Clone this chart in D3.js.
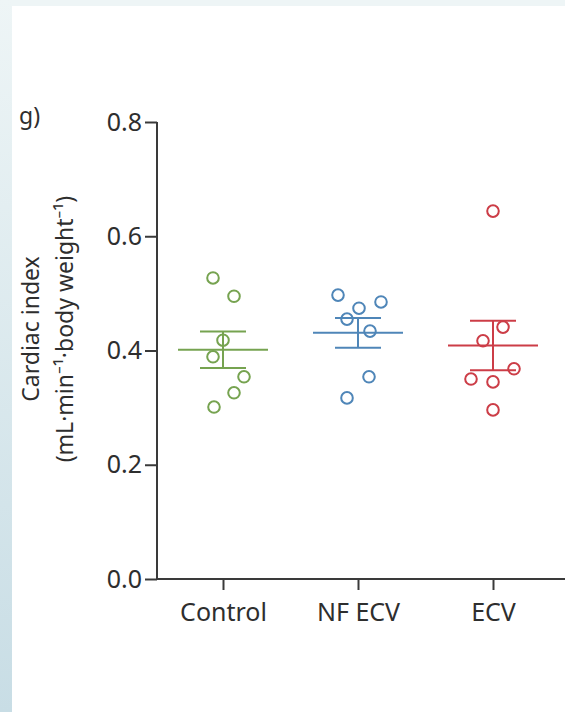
<!DOCTYPE html>
<html>
<head>
<meta charset="utf-8">
<script src="https://cdn.jsdelivr.net/npm/d3@7"></script>
<style>
  html, body { margin: 0; padding: 0; background: #fff; }
  svg { display: block; }
  text { font-family: "Noto Sans", "Open Sans", sans-serif; fill: #2e2e2e; }
</style>
</head>
<body>
<svg id="chart" width="565" height="712"></svg>
<script>
// Cardiac index per animal, by group
const categories = ["Control", "NF ECV", "ECV"];
const controlValues = [0.527, 0.495, 0.418, 0.389, 0.354, 0.326, 0.301];
const nfEcvValues   = [0.497, 0.485, 0.474, 0.455, 0.434, 0.354, 0.317];
const ecvValues     = [0.644, 0.441, 0.417, 0.368, 0.350, 0.345, 0.296];
const yTicks = [0.0, 0.2, 0.4, 0.6, 0.8];
const colors = ["#76a350", "#4f86b8", "#cc3d47"];

// horizontal scatter offsets (px) so overlapping points stay visible
const jitter = [
  [-10, 11, 0, -10, 21, 11, -9],
  [-20, 23, 1, -11, 12, 11, -11],
  [0, 10, -10, 21, -22, 0, 0]
];

const groups = [controlValues, nfEcvValues, ecvValues].map((vals, i) => {
  const mean = d3.mean(vals);
  const sem = d3.deviation(vals) / Math.sqrt(vals.length);
  return { name: categories[i], values: vals, mean, sem, color: colors[i], jitter: jitter[i] };
});

const svg = d3.select("#chart");
const fontStack = '"Noto Sans", "Open Sans", sans-serif';

// page backdrop: pale strip along the top and a tinted strip on the left
const defs = svg.append("defs");
const grad = defs.append("linearGradient").attr("id", "side").attr("x1", 0).attr("y1", 0).attr("x2", 0).attr("y2", 1);
grad.append("stop").attr("offset", "0%").attr("stop-color", "#eef5f6");
grad.append("stop").attr("offset", "100%").attr("stop-color", "#c8dde5");
svg.append("rect").attr("x", 0).attr("y", 0).attr("width", 565).attr("height", 6).attr("fill", "#eef5f6");
svg.append("rect").attr("x", 0).attr("y", 0).attr("width", 12).attr("height", 712).attr("fill", "url(#side)");

const y = d3.scaleLinear().domain([0, 0.8]).range([579, 122]);
const x = d3.scalePoint().domain(categories).range([223, 493]);
const axisX0 = 157;
const axisColor = "#3a3a3a";

// y axis
const yAxis = svg.append("g")
  .attr("transform", `translate(${axisX0},0)`)
  .call(d3.axisLeft(y).tickValues(yTicks).tickFormat(d3.format(".1f")).tickSize(12).tickPadding(3));
yAxis.select(".domain").attr("stroke", axisColor).attr("stroke-width", 2).attr("d", `M0,${y(0.8)}V${y(0)}`);
yAxis.selectAll(".tick line").attr("stroke", axisColor).attr("stroke-width", 2);
yAxis.selectAll(".tick text").attr("font-size", 25).attr("fill", "#2e2e2e").style("font-family", fontStack);

// x axis
const xAxis = svg.append("g")
  .attr("transform", `translate(0,${y(0)})`)
  .call(d3.axisBottom(x).tickSize(11).tickPadding(13));
xAxis.select(".domain").attr("stroke", axisColor).attr("stroke-width", 2).attr("d", `M${axisX0 - 1},0H565`);
xAxis.selectAll(".tick line").attr("stroke", axisColor).attr("stroke-width", 2);
xAxis.selectAll(".tick text").attr("font-size", 25).attr("fill", "#2e2e2e").style("font-family", fontStack);

// axis title
const title = svg.append("text")
  .attr("transform", `translate(39,329) rotate(-90)`)
  .attr("text-anchor", "middle")
  .attr("font-size", 23);
title.append("tspan").attr("x", 0).attr("dy", 0).text("Cardiac index");
title.append("tspan").attr("x", 0).attr("dy", 34).text("(mL·min\u207B\u00B9·body weight\u207B\u00B9)");

// panel label
svg.append("text").attr("x", 19).attr("y", 124).attr("font-size", 23).text("g)");

// points, mean and SEM
const g = svg.append("g").selectAll("g").data(groups).join("g");

g.each(function (d) {
  const sel = d3.select(this);
  const cx = x(d.name);
  const line = (x1, x2, y1, y2) => sel.append("line")
    .attr("x1", x1).attr("x2", x2).attr("y1", y1).attr("y2", y2)
    .attr("stroke", d.color).attr("stroke-width", 2);
  line(cx - 45, cx + 45, y(d.mean), y(d.mean));
  line(cx - 23, cx + 23, y(d.mean + d.sem), y(d.mean + d.sem));
  line(cx - 23, cx + 23, y(d.mean - d.sem), y(d.mean - d.sem));
  line(cx, cx, y(d.mean + d.sem), y(d.mean - d.sem));
  sel.selectAll("circle").data(d.values).join("circle")
    .attr("cx", (v, i) => cx + d.jitter[i])
    .attr("cy", v => y(v))
    .attr("r", 5.8)
    .attr("fill", "none")
    .attr("stroke", d.color)
    .attr("stroke-width", 2);
});
</script>
</body>
</html>
